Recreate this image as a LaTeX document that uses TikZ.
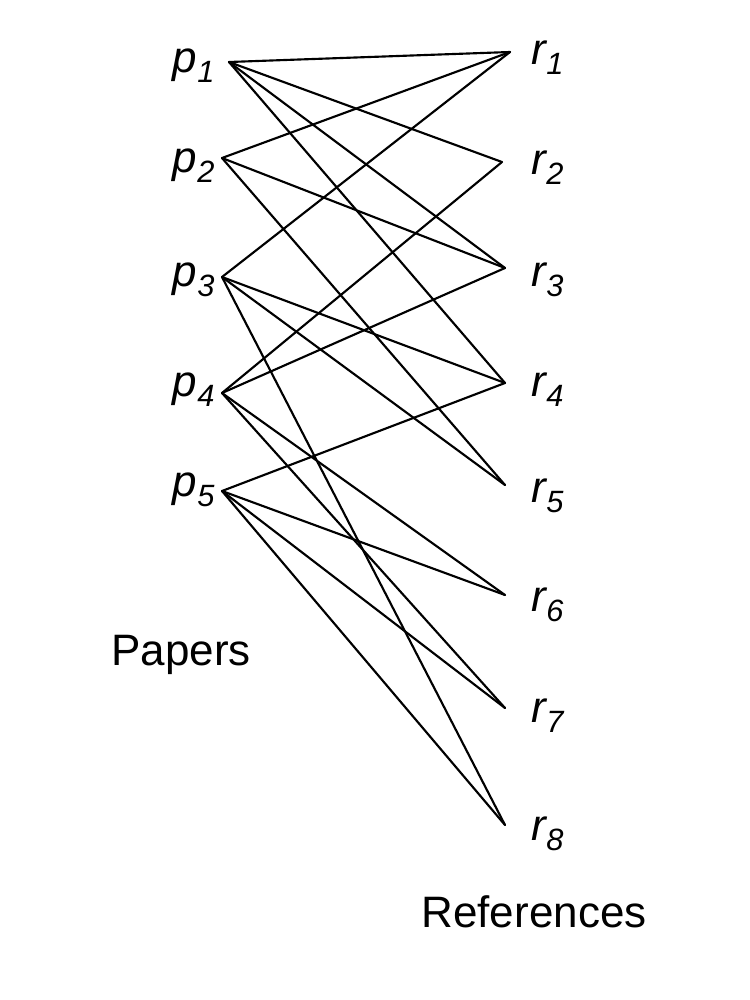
\documentclass[tikz,border=0pt]{standalone}
\usepackage{fontspec}
\setmainfont{Liberation Sans}
\begin{document}
\begin{tikzpicture}[x=0.75pt,y=-0.75pt,
  edge/.style={line width=1.6pt,line cap=round},
  lab/.style={font=\fontsize{33}{36}\selectfont\itshape,inner sep=0pt},
  txt/.style={font=\fontsize{33}{36}\selectfont,inner sep=0pt}]
\useasboundingbox (0,0) rectangle (750,1000);
\coordinate (p1) at (229,62);
\coordinate (p2) at (222,158);
\coordinate (p3) at (222,277);
\coordinate (p4) at (222,393);
\coordinate (p5) at (222,491);
\coordinate (r1) at (510,52);
\coordinate (r2) at (502,162);
\coordinate (r3) at (505,268);
\coordinate (r4) at (505,383);
\coordinate (r5) at (505,485);
\coordinate (r6) at (505,595);
\coordinate (r7) at (505,708);
\coordinate (r8) at (505,825);
\foreach \a/\b in {p1/r1,p1/r2,p1/r3,p1/r4,p2/r1,p2/r3,p2/r5,p3/r1,p3/r4,p3/r5,p3/r8,p4/r2,p4/r3,p4/r6,p4/r7,p5/r4,p5/r6,p5/r7,p5/r8}
  \draw[edge] (\a) -- (\b);
\foreach \i/\y in {1/66,2/166,3/280,4/390,5/490}
  \node[lab] (lp\i) at (194,\y) {p\textsubscript{\i}};
\foreach \i/\y in {1/58,2/168,3/280,4/390,5/496,6/605,7/716,8/834}
  \node[lab] (lr\i) at (548,\y) {r\textsubscript{\i}};
\node[txt] (papers) at (181,655) {Papers};
\node[txt] (refs) at (534,912) {References};
\end{tikzpicture}
\end{document}
